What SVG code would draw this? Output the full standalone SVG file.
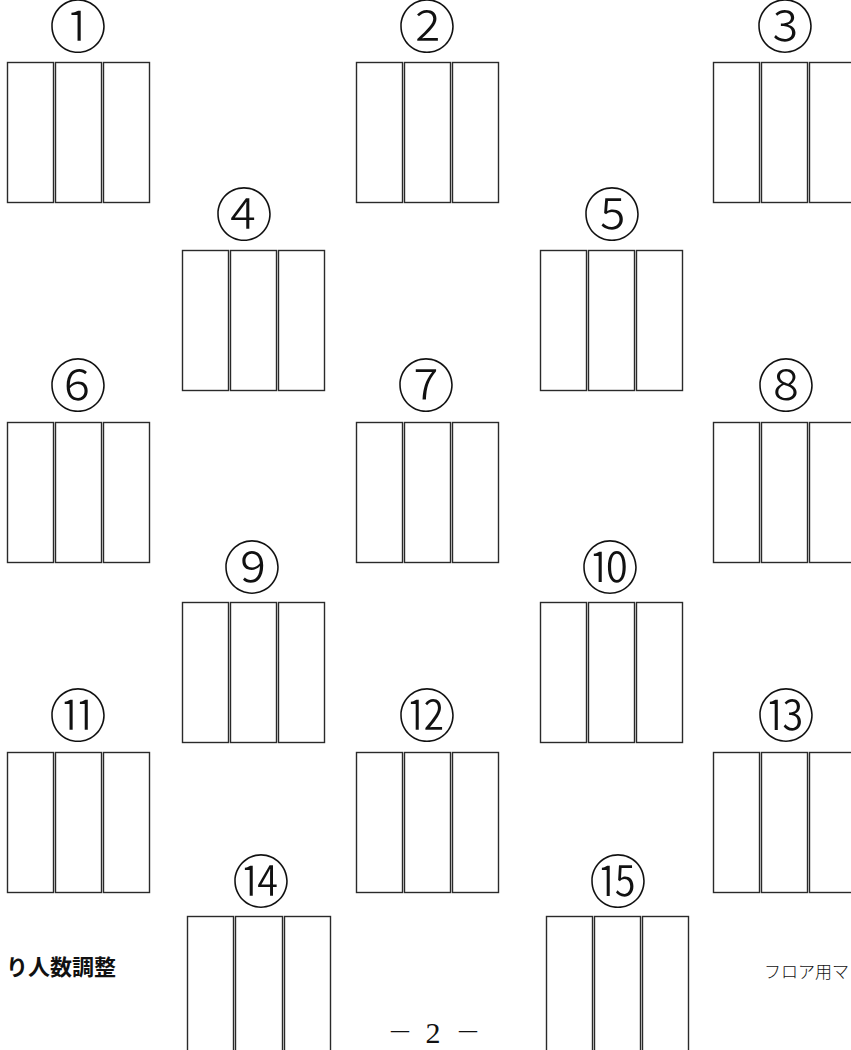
<svg xmlns="http://www.w3.org/2000/svg" width="851" height="1050" viewBox="0 0 851 1050">
<style>
.bay{fill:#fff;stroke:#2a2a2a;stroke-width:1.4}
.num{font-family:"Noto Sans CJK JP",sans-serif;font-size:58px;font-weight:300;fill:#111;text-anchor:middle;dominant-baseline:central}
.pg{font-family:"Liberation Serif","Noto Sans CJK JP",serif;font-size:30px;fill:#111;text-anchor:middle}
.dash{font-family:"Noto Sans CJK JP",sans-serif;font-size:25px;font-weight:300}
.note{font-family:"Noto Sans CJK JP",sans-serif;font-size:22px;font-weight:700;fill:#111}
.map{font-family:"Noto Sans CJK JP",serif;font-size:17px;font-weight:300;fill:#111}
</style>
<rect width="851" height="1050" fill="#fff"/>
<g id="n1"><text class="num" x="78" y="23">①</text><rect class="bay" x="7.5" y="62.5" width="46" height="140"/><rect class="bay" x="55.5" y="62.5" width="46" height="140"/><rect class="bay" x="103.5" y="62.5" width="46" height="140"/></g>
<g id="n2"><text class="num" x="427" y="23">②</text><rect class="bay" x="356.5" y="62.5" width="46" height="140"/><rect class="bay" x="404.5" y="62.5" width="46" height="140"/><rect class="bay" x="452.5" y="62.5" width="46" height="140"/></g>
<g id="n3"><text class="num" x="785" y="23">③</text><rect class="bay" x="713.5" y="62.5" width="46" height="140"/><rect class="bay" x="761.5" y="62.5" width="46" height="140"/><rect class="bay" x="809.5" y="62.5" width="46" height="140"/></g>
<g id="n4"><text class="num" x="244" y="211">④</text><rect class="bay" x="182.5" y="250.5" width="46" height="140"/><rect class="bay" x="230.5" y="250.5" width="46" height="140"/><rect class="bay" x="278.5" y="250.5" width="46" height="140"/></g>
<g id="n5"><text class="num" x="612" y="211">⑤</text><rect class="bay" x="540.5" y="250.5" width="46" height="140"/><rect class="bay" x="588.5" y="250.5" width="46" height="140"/><rect class="bay" x="636.5" y="250.5" width="46" height="140"/></g>
<g id="n6"><text class="num" x="78" y="382">⑥</text><rect class="bay" x="7.5" y="422.5" width="46" height="140"/><rect class="bay" x="55.5" y="422.5" width="46" height="140"/><rect class="bay" x="103.5" y="422.5" width="46" height="140"/></g>
<g id="n7"><text class="num" x="426" y="382">⑦</text><rect class="bay" x="356.5" y="422.5" width="46" height="140"/><rect class="bay" x="404.5" y="422.5" width="46" height="140"/><rect class="bay" x="452.5" y="422.5" width="46" height="140"/></g>
<g id="n8"><text class="num" x="786" y="382">⑧</text><rect class="bay" x="713.5" y="422.5" width="46" height="140"/><rect class="bay" x="761.5" y="422.5" width="46" height="140"/><rect class="bay" x="809.5" y="422.5" width="46" height="140"/></g>
<g id="n9"><text class="num" x="252" y="564">⑨</text><rect class="bay" x="182.5" y="602.5" width="46" height="140"/><rect class="bay" x="230.5" y="602.5" width="46" height="140"/><rect class="bay" x="278.5" y="602.5" width="46" height="140"/></g>
<g id="n10"><text class="num" x="610" y="564">⑩</text><rect class="bay" x="540.5" y="602.5" width="46" height="140"/><rect class="bay" x="588.5" y="602.5" width="46" height="140"/><rect class="bay" x="636.5" y="602.5" width="46" height="140"/></g>
<g id="n11"><text class="num" x="78" y="712">⑪</text><rect class="bay" x="7.5" y="752.5" width="46" height="140"/><rect class="bay" x="55.5" y="752.5" width="46" height="140"/><rect class="bay" x="103.5" y="752.5" width="46" height="140"/></g>
<g id="n12"><text class="num" x="427" y="712">⑫</text><rect class="bay" x="356.5" y="752.5" width="46" height="140"/><rect class="bay" x="404.5" y="752.5" width="46" height="140"/><rect class="bay" x="452.5" y="752.5" width="46" height="140"/></g>
<g id="n13"><text class="num" x="786" y="712">⑬</text><rect class="bay" x="713.5" y="752.5" width="46" height="140"/><rect class="bay" x="761.5" y="752.5" width="46" height="140"/><rect class="bay" x="809.5" y="752.5" width="46" height="140"/></g>
<g id="n14"><text class="num" x="261" y="878">⑭</text><rect class="bay" x="187.5" y="916.5" width="46" height="140"/><rect class="bay" x="235.5" y="916.5" width="47" height="140"/><rect class="bay" x="284.5" y="916.5" width="46" height="140"/></g>
<g id="n15"><text class="num" x="618" y="878">⑮</text><rect class="bay" x="546.5" y="916.5" width="46" height="140"/><rect class="bay" x="594.5" y="916.5" width="46" height="140"/><rect class="bay" x="642.5" y="916.5" width="46" height="140"/></g>
<g id="connectors"/>
<text class="note" x="6" y="975">り人数調整</text>
<text class="map" x="764" y="978">フロア用マ</text>
<text class="pg" y="1043"><tspan class="dash" x="400" y="1041">－</tspan><tspan x="433" y="1043"> 2 </tspan><tspan class="dash" x="468" y="1041">－</tspan></text>
</svg>
